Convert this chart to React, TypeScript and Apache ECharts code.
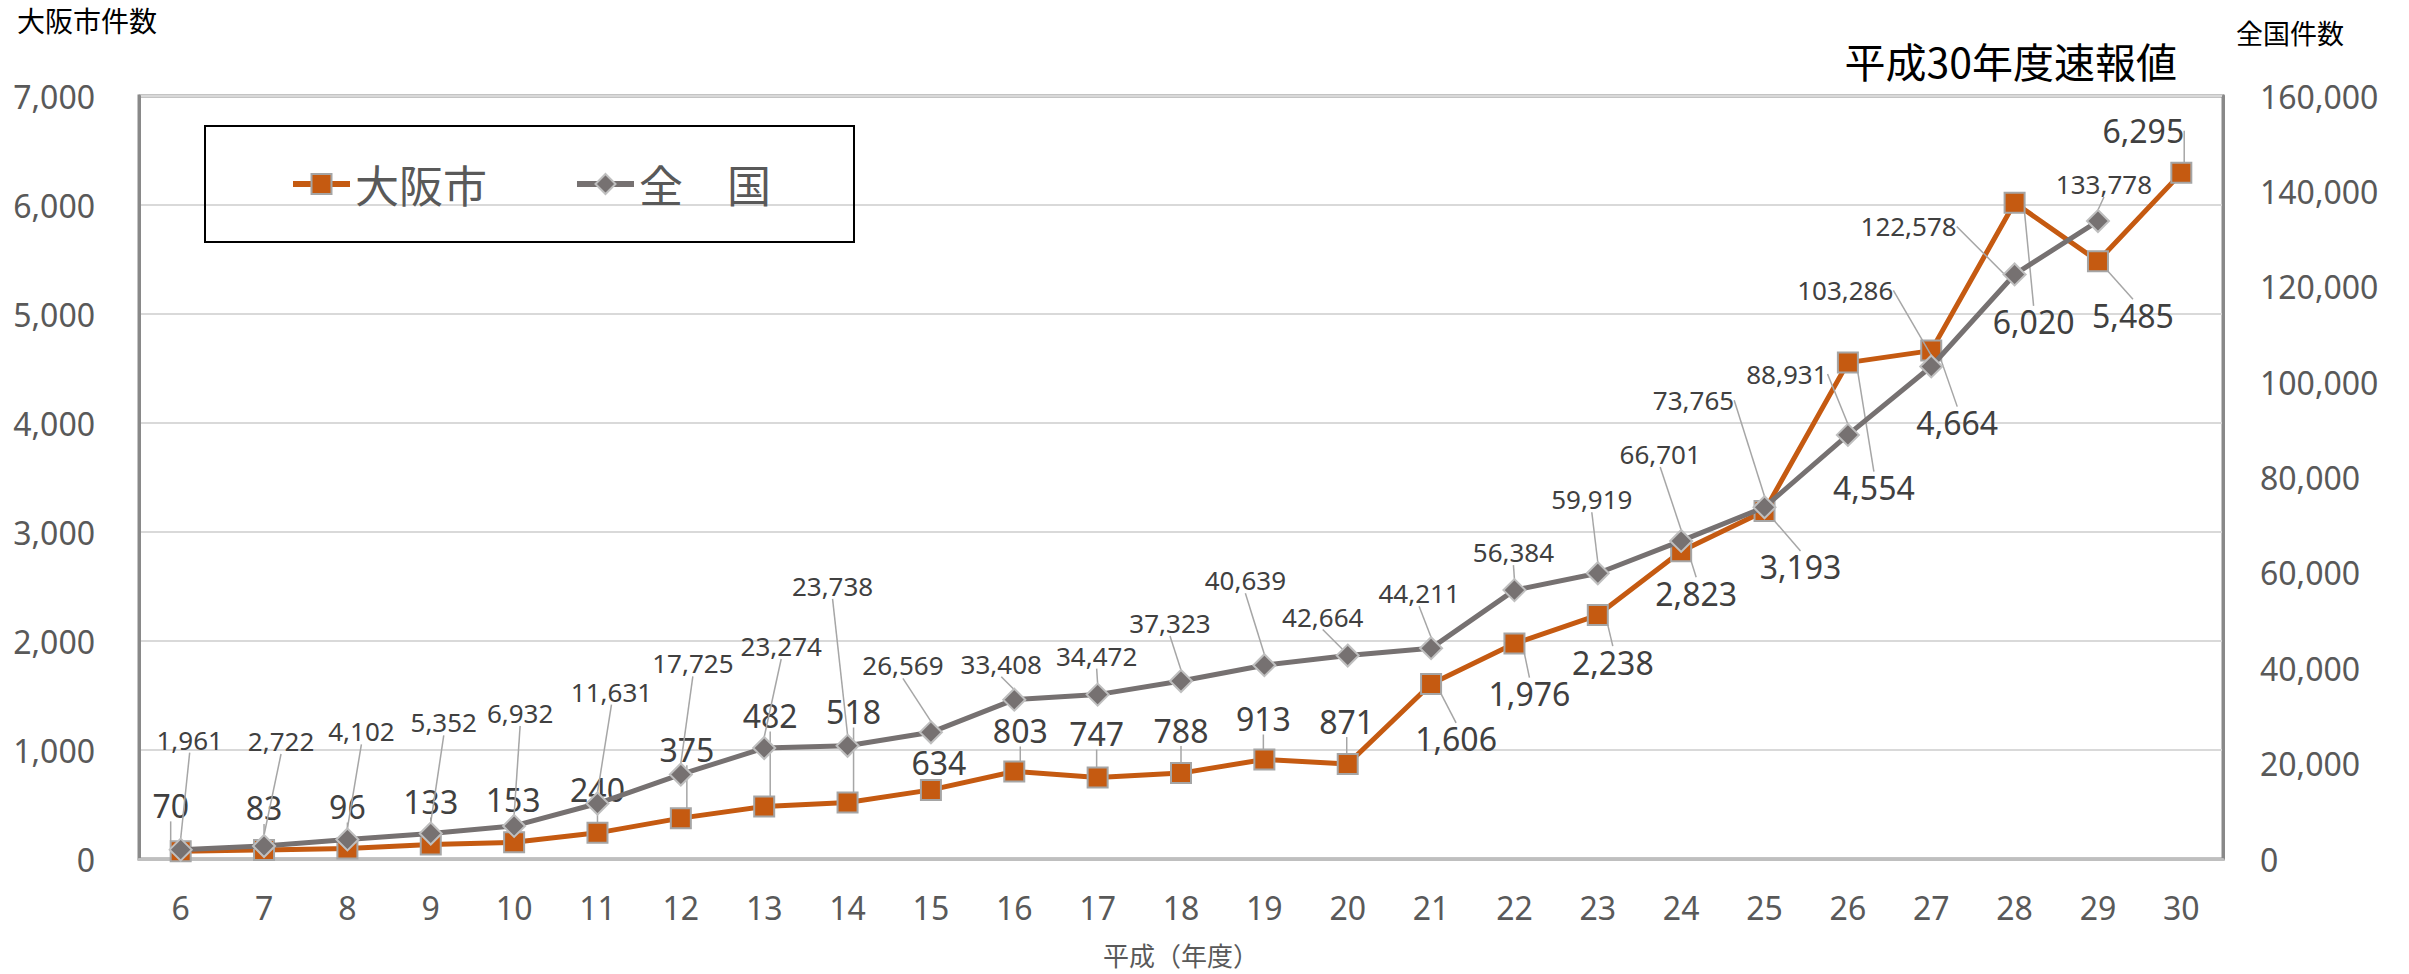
import React, { useEffect, useRef } from "react";
import * as echarts from "echarts";

// ---- data ----
const categories = ["6", "7", "8", "9", "10", "11", "12", "13", "14", "15", "16", "17", "18", "19", "20", "21", "22", "23", "24", "25", "26", "27", "28", "29", "30"];
const osakaCounts = [70, 83, 96, 133, 153, 240, 375, 482, 518, 634, 803, 747, 788, 913, 871, 1606, 1976, 2238, 2823, 3193, 4554, 4664, 6020, 5485, 6295];
const nationalCounts: (number | null)[] = [1961, 2722, 4102, 5352, 6932, 11631, 17725, 23274, 23738, 26569, 33408, 34472, 37323, 40639, 42664, 44211, 56384, 59919, 66701, 73765, 88931, 103286, 122578, 133778, null];
const seriesNames = ["大阪市", "全\u3000国"];
const leftAxisTicks = { min: 0, max: 7000, interval: 1000 };
const rightAxisTicks = { min: 0, max: 160000, interval: 20000 };
const titleText = "平成30年度速報値";
const leftAxisName = "大阪市件数";
const rightAxisName = "全国件数";
const xAxisName = "平成（年度）";

// ---- label placement (offset of label centre from its point, px) ----
const osakaLabelOffset: [number, number][] = [
  [-10, -46], [0, -42], [0, -42], [0, -43], [-1, -43], [0, -43], [6, -69], [6, -91], [6, -91], [8, -27],
  [6, -41], [-1, -44], [0, -43], [-1, -41], [-1, -43], [25, 55], [15, 50], [15, 47], [15, 42], [36, 56],
  [26, 125], [26, 72], [19, 119], [35, 54], [-38, -42],
];
const nationalLabelOffset: [number, number][] = [
  [9, -110], [17, -105], [14, -108], [13, -111], [6, -113], [14, -112], [12, -111], [17, -102], [-15, -160], [-28, -67],
  [-13, -36], [-1, -39], [-11, -58], [-19, -85], [-25, -39], [-12, -55], [-1, -38], [-6, -74], [-21, -87], [-71, -107],
  [-61, -61], [-86, -76], [-106, -48], [6, -37], [0, 0],
];

const FONT = "'Noto Sans', 'Noto Sans CJK JP', sans-serif";
const CJK = "'Noto Sans CJK JP', sans-serif";
const fmt = (v: any) => (v == null ? "" : Number(v).toLocaleString("en-US"));

export default function App() {
  const ref = useRef<HTMLDivElement>(null);
  useEffect(() => {
    if (!ref.current) return;
    const chart = echarts.init(ref.current, null, { renderer: "svg" });
    chart.setOption({
      animation: false,
      backgroundColor: "#ffffff",
      title: {
        text: titleText,
        right: 232,
        top: 39,
        padding: 0,
        textStyle: { fontFamily: CJK, fontSize: 41, fontWeight: "normal", color: "#000000" },
      },
      legend: {
        data: seriesNames,
        left: 205,
        top: 126,
        padding: [36, 83, 36, 85],
        borderColor: "#000000",
        borderWidth: 2,
        itemWidth: 57,
        itemHeight: 25,
        itemGap: 87,
        selectedMode: false,
        lineStyle: { width: 6 },
        itemStyle: { borderWidth: 2 },
        textStyle: { fontFamily: CJK, fontSize: 44, color: "#595959" },
      },
      grid: {
        left: 139,
        right: 186,
        top: 96,
        bottom: 115,
        show: true,
        borderColor: "#898989",
        borderWidth: 3,
        backgroundColor: "transparent",
      },
      xAxis: {
        type: "category",
        data: categories,
        boundaryGap: true,
        name: xAxisName,
        nameLocation: "middle",
        nameGap: 82,
        nameTextStyle: { fontFamily: CJK, fontSize: 26, color: "#595959" },
        axisLine: { show: true, lineStyle: { color: "#BFBFBF", width: 3 } },
        axisTick: { show: false },
        axisLabel: { fontFamily: FONT, fontSize: 32, color: "#595959", margin: 32 },
        splitLine: { show: false },
      },
      yAxis: [
        {
          type: "value",
          min: leftAxisTicks.min,
          max: leftAxisTicks.max,
          interval: leftAxisTicks.interval,
          axisLine: { show: true, lineStyle: { color: "#898989", width: 3 } },
          axisTick: { show: false },
          axisLabel: { fontFamily: FONT, fontSize: 32, color: "#595959", margin: 44, formatter: fmt },
          splitLine: { show: true, lineStyle: { color: "#D9D9D9", width: 2 } },
        },
        {
          type: "value",
          position: "right",
          min: rightAxisTicks.min,
          max: rightAxisTicks.max,
          interval: rightAxisTicks.interval,
          axisLine: { show: true, lineStyle: { color: "#898989", width: 3 } },
          axisTick: { show: false },
          axisLabel: { fontFamily: FONT, fontSize: 32, color: "#595959", margin: 37, formatter: fmt },
          splitLine: { show: false },
        },
      ],
      graphic: [
        {
          type: "text",
          x: 17,
          y: 20,
          style: { text: leftAxisName, font: `28px ${CJK}`, fill: "#000000", align: "left", verticalAlign: "middle" },
        },
        {
          type: "text",
          x: 2236,
          y: 32,
          style: { text: rightAxisName, font: `27px ${CJK}`, fill: "#000000", align: "left", verticalAlign: "middle" },
        },
      ],
      series: [
        {
          name: seriesNames[0],
          type: "line",
          yAxisIndex: 0,
          data: osakaCounts,
          symbol: "rect",
          symbolSize: 20,
          showAllSymbol: true,
          lineStyle: { color: "#C55A11", width: 5 },
          itemStyle: { color: "#C55A11", borderColor: "#A5A5A5", borderWidth: 2 },
          label: {
            show: true,
            position: "inside",
            formatter: (p: any) => fmt(p.value),
            fontFamily: FONT,
            fontSize: 32,
            color: "#404040",
            textBorderWidth: 0,
          },
          labelLine: { show: true, lineStyle: { color: "#A6A6A6", width: 1.5 } },
          labelLayout: (p: any) => ({
            dx: osakaLabelOffset[p.dataIndex][0],
            dy: osakaLabelOffset[p.dataIndex][1],
            hideOverlap: false,
          }),
          emphasis: { disabled: true },
          z: 2,
        },
        {
          name: seriesNames[1],
          type: "line",
          yAxisIndex: 1,
          data: nationalCounts,
          symbol: "diamond",
          symbolSize: 22,
          showAllSymbol: true,
          lineStyle: { color: "#767171", width: 5 },
          itemStyle: { color: "#767171", borderColor: "#BFBFBF", borderWidth: 2 },
          label: {
            show: true,
            position: "inside",
            formatter: (p: any) => fmt(p.value),
            fontFamily: FONT,
            fontSize: 26,
            color: "#404040",
            textBorderWidth: 0,
          },
          labelLine: { show: true, lineStyle: { color: "#A6A6A6", width: 1.5 } },
          labelLayout: (p: any) => ({
            dx: nationalLabelOffset[p.dataIndex][0],
            dy: nationalLabelOffset[p.dataIndex][1],
            hideOverlap: false,
          }),
          emphasis: { disabled: true },
          z: 3,
        },
      ],
    });
    return () => chart.dispose();
  }, []);
  return (
    <div
      ref={ref}
      style={{ position: "absolute", left: 0, top: 0, width: 2409, height: 974, background: "#fff" }}
    />
  );
}
